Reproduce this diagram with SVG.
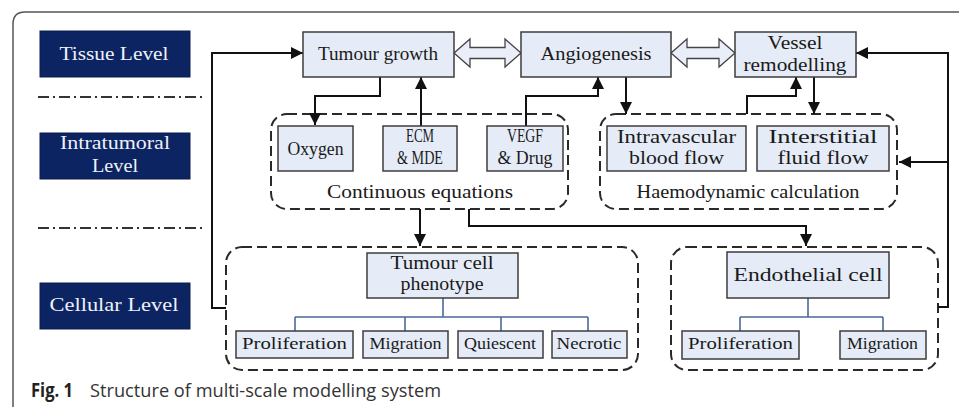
<svg xmlns="http://www.w3.org/2000/svg" width="959" height="407" viewBox="0 0 959 407">
<defs>
<marker id="ah" viewBox="0 0 12 12" refX="12" refY="6" markerWidth="12" markerHeight="12" markerUnits="userSpaceOnUse" orient="auto">
<path d="M0,0 L12,6 L0,12 Z" fill="#111"/>
</marker>
<style>
.lvl{fill:#0c2461;stroke:#0a1c4c;stroke-width:1}
.lt{fill:#eef1f8;font-family:"Liberation Serif",serif;font-size:18px;text-anchor:middle}
.box{fill:#e5ecf7;stroke:#3c3c3c;stroke-width:1.5}
.t{fill:#1a1a1a;font-family:"Liberation Serif",serif;font-size:18px;text-anchor:middle}
.ts{fill:#1a1a1a;font-family:"Liberation Serif",serif;font-size:16px;text-anchor:middle}
.grp{fill:none;stroke:#2a2a2a;stroke-width:2;stroke-dasharray:10 5}
.con{fill:none;stroke:#111;stroke-width:2}
.arr{marker-end:url(#ah)}
.tree{fill:none;stroke:#4a6a9c;stroke-width:1.6}
.dd{fill:none;stroke:#333;stroke-width:2;stroke-dasharray:11 4 2 4}
.hol{fill:#e9eef8;stroke:#444;stroke-width:1.3}
</style>
</defs>
<rect width="959" height="407" fill="#fff"/>
<path d="M13,407 V24 Q13,12 25,12 H959" fill="none" stroke="#555" stroke-width="1.5"/>

<g id="levels">
<g id="tissue-level"><rect class="lvl" x="40" y="31" width="150" height="46"/><text class="lt" x="114" y="60" textLength="109" lengthAdjust="spacingAndGlyphs">Tissue Level</text></g>
<g id="intratumoral-level"><rect class="lvl" x="40" y="133" width="150" height="46"/><text class="lt" x="115" y="149" textLength="110" lengthAdjust="spacingAndGlyphs">Intratumoral</text><text class="lt" x="115" y="172" textLength="46" lengthAdjust="spacingAndGlyphs">Level</text></g>
<g id="cellular-level"><rect class="lvl" x="40" y="283" width="150" height="46"/><text class="lt" x="114" y="311" textLength="129" lengthAdjust="spacingAndGlyphs">Cellular Level</text></g>
<path class="dd" d="M38,97 H205"/>
<path class="dd" d="M38,228 H205"/>
</g>

<g id="groups">
<rect id="continuous-group" class="grp" x="271" y="114" width="297" height="95" rx="16"/>
<rect id="haemo-group" class="grp" x="600" y="114" width="297" height="95" rx="16"/>
<rect id="tumourcell-group" class="grp" x="226" y="247" width="412" height="123" rx="16"/>
<rect id="endo-group" class="grp" x="671" y="247" width="267" height="123" rx="16"/>
</g>

<g id="connectors">
<path class="con arr" d="M226,308 H212 V53 H303"/>
<path class="con arr" d="M380,77 V96 H315 V125"/>
<path class="con arr" d="M421,126 V77"/>
<path class="con arr" d="M526,126 V96 H598 V77"/>
<path class="con arr" d="M626,77 V114"/>
<path class="con arr" d="M747,114 V96 H796 V77"/>
<path class="con arr" d="M814,77 V114"/>
<path class="con arr" d="M938,307 H948 V53 H856"/>
<path class="con arr" d="M948,162 H899"/>
<path class="con arr" d="M420,209 V246"/>
<path class="con arr" d="M469,209 V226 H806 V246"/>
<path class="tree" d="M443,298 V317 M295,317 H588 M295,317 V331 M405,317 V331 M501,317 V331 M588,317 V331"/>
<path class="tree" d="M808,298 V317 M740,317 H883 M740,317 V331 M883,317 V331"/>
<polygon class="hol" points="454,53 470,39 470,47.5 505,47.5 505,39 521,53 505,67 505,58.5 470,58.5 470,67"/>
<polygon class="hol" points="671,53 687,39 687,47.5 719,47.5 719,39 735,53 719,67 719,58.5 687,58.5 687,67"/>
</g>

<g id="tumour-growth"><rect class="box" x="303" y="32" width="151" height="45"/><text class="t" x="378" y="60" textLength="120" lengthAdjust="spacingAndGlyphs">Tumour growth</text></g>
<g id="angiogenesis"><rect class="box" x="521" y="32" width="150" height="45"/><text class="t" x="596" y="60" textLength="111" lengthAdjust="spacingAndGlyphs">Angiogenesis</text></g>
<g id="vessel-remodelling"><rect class="box" x="735" y="32" width="121" height="45"/><text class="t" x="795" y="49" textLength="55" lengthAdjust="spacingAndGlyphs">Vessel</text><text class="t" x="795" y="71" textLength="103" lengthAdjust="spacingAndGlyphs">remodelling</text></g>

<g id="oxygen"><rect class="box" x="278" y="126" width="75" height="45"/><text class="t" x="315.5" y="155" textLength="56" lengthAdjust="spacingAndGlyphs">Oxygen</text></g>
<g id="ecm-mde"><rect class="box" x="383" y="126" width="74" height="45"/><text class="t" x="420" y="142" textLength="28" lengthAdjust="spacingAndGlyphs">ECM</text><text class="t" x="420" y="164" textLength="46" lengthAdjust="spacingAndGlyphs">&amp; MDE</text></g>
<g id="vegf-drug"><rect class="box" x="487" y="126" width="76" height="45"/><text class="t" x="525" y="142" textLength="36" lengthAdjust="spacingAndGlyphs">VEGF</text><text class="t" x="525" y="164" textLength="55" lengthAdjust="spacingAndGlyphs">&amp; Drug</text></g>
<text class="t" x="420" y="198" textLength="186" lengthAdjust="spacingAndGlyphs">Continuous equations</text>

<g id="intravascular"><rect class="box" x="607" y="126" width="139" height="45"/><text class="t" x="676.5" y="143" textLength="119" lengthAdjust="spacingAndGlyphs">Intravascular</text><text class="t" x="676.5" y="164" textLength="95" lengthAdjust="spacingAndGlyphs">blood flow</text></g>
<g id="interstitial"><rect class="box" x="757" y="126" width="132" height="45"/><text class="t" x="823" y="143" textLength="109" lengthAdjust="spacingAndGlyphs">Interstitial</text><text class="t" x="823" y="164" textLength="91" lengthAdjust="spacingAndGlyphs">fluid flow</text></g>
<text class="t" x="748" y="198" textLength="223" lengthAdjust="spacingAndGlyphs">Haemodynamic calculation</text>

<g id="tumour-cell-phenotype"><rect class="box" x="367" y="253" width="151" height="45"/><text class="t" x="442" y="269" textLength="103" lengthAdjust="spacingAndGlyphs">Tumour cell</text><text class="t" x="442" y="290" textLength="83" lengthAdjust="spacingAndGlyphs">phenotype</text></g>
<g id="t-proliferation"><rect class="box" x="236" y="331" width="117" height="27"/><text class="ts" x="294.5" y="349" textLength="105" lengthAdjust="spacingAndGlyphs">Proliferation</text></g>
<g id="t-migration"><rect class="box" x="363" y="331" width="85" height="27"/><text class="ts" x="405.5" y="349" textLength="72" lengthAdjust="spacingAndGlyphs">Migration</text></g>
<g id="t-quiescent"><rect class="box" x="458" y="331" width="85" height="27"/><text class="ts" x="500" y="349" textLength="72" lengthAdjust="spacingAndGlyphs">Quiescent</text></g>
<g id="t-necrotic"><rect class="box" x="552" y="331" width="75" height="27"/><text class="ts" x="589" y="349" textLength="65" lengthAdjust="spacingAndGlyphs">Necrotic</text></g>

<g id="endothelial-cell"><rect class="box" x="727" y="252" width="162" height="46"/><text class="t" x="808" y="281" textLength="149" lengthAdjust="spacingAndGlyphs">Endothelial cell</text></g>
<g id="e-proliferation"><rect class="box" x="682" y="331" width="117" height="28"/><text class="ts" x="740.5" y="349" textLength="105" lengthAdjust="spacingAndGlyphs">Proliferation</text></g>
<g id="e-migration"><rect class="box" x="840" y="331" width="86" height="28"/><text class="ts" x="882.5" y="349" textLength="71" lengthAdjust="spacingAndGlyphs">Migration</text></g>

<g id="caption">
<text x="31" y="397" font-family="'Open Sans','Liberation Sans',sans-serif" font-size="19" font-weight="bold" fill="#222" textLength="42" lengthAdjust="spacingAndGlyphs">Fig. 1</text>
<text x="90" y="397" font-family="'Open Sans','Liberation Sans',sans-serif" font-size="19" fill="#333" textLength="351" lengthAdjust="spacingAndGlyphs">Structure of multi-scale modelling system</text>
</g>
</svg>
